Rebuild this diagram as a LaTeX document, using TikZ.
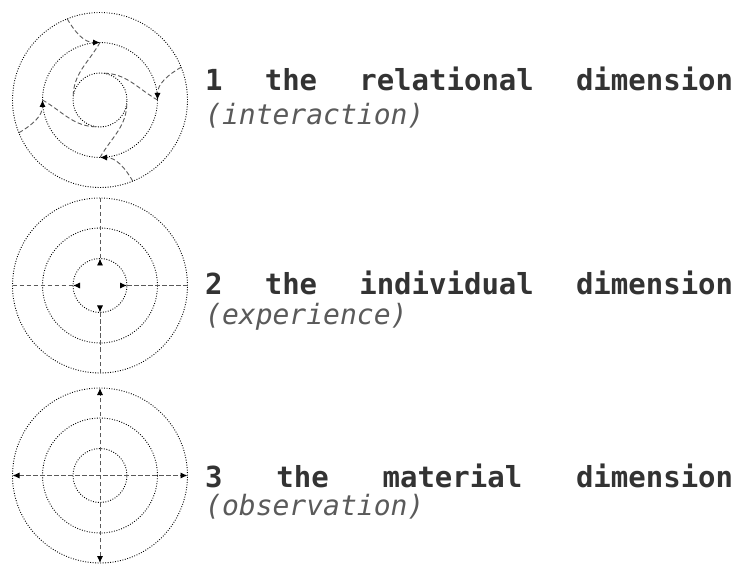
\documentclass[tikz,border=0pt]{standalone}
\usepackage{fontspec}
\setmonofont{DejaVu Sans Mono}
\usepackage{xcolor}
\usepackage{tikz}
\usetikzlibrary{arrows.meta}
\definecolor{inkgray}{RGB}{51, 51, 51}
\definecolor{notegray}{RGB}{90, 90, 90}
\definecolor{flowgray}{RGB}{90, 90, 90}

\tikzset{
  ring/.style={circle, draw=black, line width=0.9pt, dash pattern=on 0.9pt off 1.6pt, inner sep=0pt, outer sep=0pt},
  flow/.style={flowgray, line width=0.9pt, dash pattern=on 4.5pt off 2.5pt},
  tipend/.style={-{Latex[length=7pt, width=6pt, color=black]}},
  tipback/.style={-{Latex[length=7pt, width=6pt, color=black, reversed]}, shorten >=-7pt},
  tipboth/.style={{Latex[length=7pt, width=6pt, color=black]}-{Latex[length=7pt, width=6pt, color=black]}},
  dimlabel/.style={anchor=base west, inner sep=0pt, text=inkgray, font=\ttfamily\bfseries\fontsize{29}{34}\selectfont},
  dimnote/.style={anchor=base west, inner sep=0pt, text=notegray, font=\ttfamily\itshape\fontsize{28}{34}\selectfont}
}

\begin{document}
\begin{tikzpicture}[x=1pt, y=1pt]
  \useasboundingbox (0,0) rectangle (735,565);

  % relational: rings and pinwheel flows
  \node[ring, minimum size=175pt] (c1o) at (100,465) {};
  \node[ring, minimum size=115pt] (c1m) at (100,465) {};
  \node[ring, minimum size=54pt] (c1i) at (100,465) {};
  \foreach \a [evaluate=\a as \b using \a+22, evaluate=\a as \c using \a+85,
               evaluate=\a as \po using \a+210, evaluate=\a as \pi using \a+90,
               evaluate=\a as \qo using \a+150] in {0,90,180,270} {
    \draw[flow, tipend] (c1o.\b) to[out=\po, in=\pi] (c1m.\a);
    \draw[flow] (c1m.\a) to[out=\qo, in=\a] (c1i.\c);
  }

  % individual: flows end at the inner ring
  \node[ring, minimum size=175pt] (c2o) at (100,279.5) {};
  \node[ring, minimum size=115pt] (c2m) at (100,279.5) {};
  \node[ring, minimum size=54pt] (c2i) at (100,279.5) {};
  \foreach \a in {0,90,180,270}
    \draw[flow, tipback] (c2o.\a) -- (c2i.\a);

  % material: flows cross the whole disc
  \node[ring, minimum size=175pt] (c3o) at (100,89.5) {};
  \node[ring, minimum size=115pt] (c3m) at (100,89.5) {};
  \node[ring, minimum size=54pt] (c3i) at (100,89.5) {};
  \draw[flow, tipboth] (c3o.west) -- (c3o.east);
  \draw[flow, tipboth] (c3o.south) -- (c3o.north);

  % labels
  \node[dimlabel] (t1) at (205,474) {\makebox[528pt][l]{1\hfill the\hfill relational\hfill dimension}};
  \node[dimnote] (n1) at (205,440) {(interaction)};
  \node[dimlabel] (t2) at (205,270) {\makebox[528pt][l]{2\hfill the\hfill individual\hfill dimension}};
  \node[dimnote] (n2) at (205,240) {(experience)};
  \node[dimlabel] (t3) at (205,78) {\makebox[528pt][l]{3\hfill the\hfill material\hfill dimension}};
  \node[dimnote] (n3) at (205,50) {(observation)};
\end{tikzpicture}
\end{document}
